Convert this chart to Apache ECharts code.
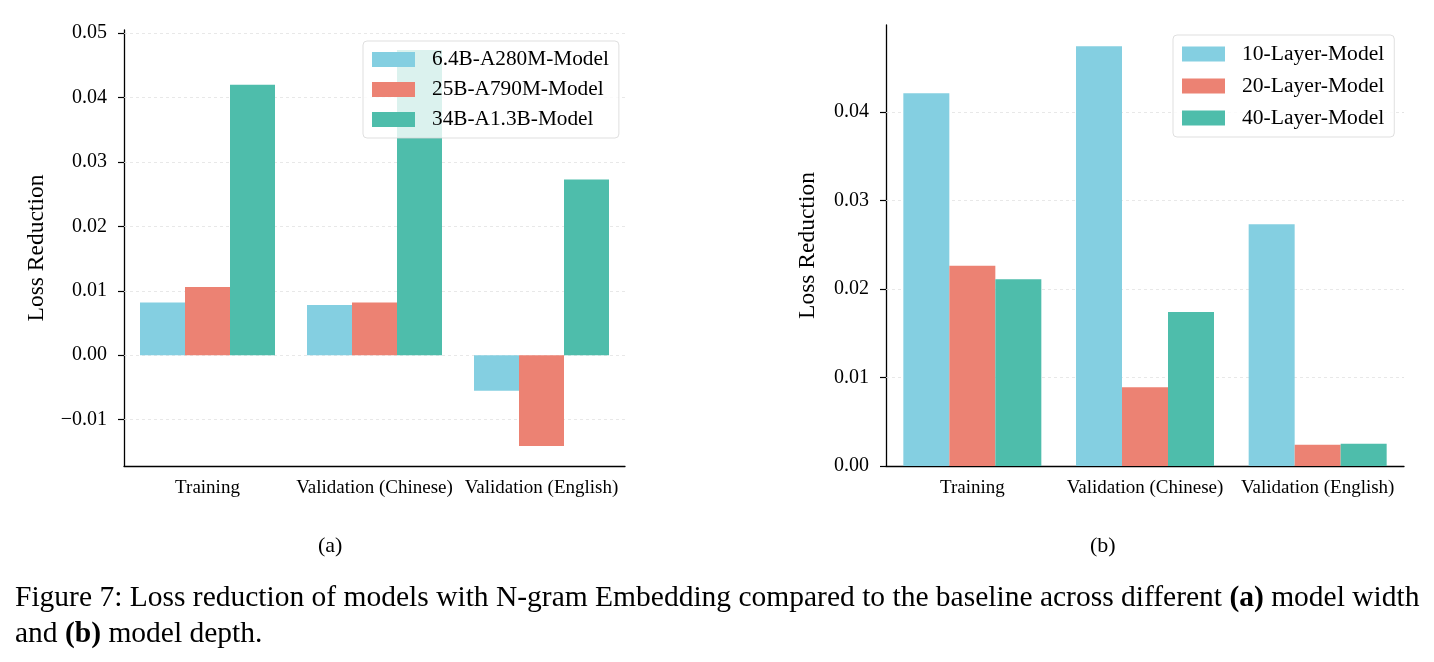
<!DOCTYPE html>
<html>
<head>
<meta charset="utf-8">
<script src="https://cdn.jsdelivr.net/npm/echarts@6/dist/echarts.min.js"></script>
<style>
  html, body { margin: 0; padding: 0; background: #fff; }
  #chart { width: 1434px; height: 662px; }
</style>
</head>
<body>
<div id="chart"></div>
<script>
// categories shared by both panels
const categories = ['Training', 'Validation (Chinese)', 'Validation (English)']

// (a) model width
const widthNames = ['6.4B-A280M-Model', '25B-A790M-Model', '34B-A1.3B-Model']
const width64B = [0.0082, 0.0078, -0.0055]
const width25B = [0.0106, 0.0082, -0.0141]
const width34B = [0.0420, 0.0474, 0.0273]
const ticksA = [-0.01, 0.00, 0.01, 0.02, 0.03, 0.04, 0.05]

// (b) model depth
const depthNames = ['10-Layer-Model', '20-Layer-Model', '40-Layer-Model']
const depth10 = [0.0421, 0.0474, 0.0273]
const depth20 = [0.0226, 0.0089, 0.0024]
const depth40 = [0.0211, 0.0174, 0.0025]
const ticksB = [0.00, 0.01, 0.02, 0.03, 0.04]

const colors = ['#84cfe1', '#ec8273', '#4ebdab']
const serif = "'Liberation Serif', 'Times New Roman', serif"

function fmt(v) {
  return v < 0 ? '\u2212' + (-v).toFixed(2) : v.toFixed(2)
}

function yAxis(grid, min, max, ticks, nameGap) {
  return {
    type: 'value',
    gridIndex: grid,
    min: min,
    max: max,
    name: 'Loss Reduction',
    nameLocation: 'middle',
    nameGap: nameGap,
    nameTextStyle: { fontFamily: serif, fontSize: 23.5, color: '#000' },
    axisLine: { show: true, lineStyle: { color: '#000', width: 1.3 } },
    axisTick: { show: true, length: 6, customValues: ticks, lineStyle: { color: '#000', width: 1.2 } },
    axisLabel: { customValues: ticks, formatter: fmt, fontFamily: serif, fontSize: 20, color: '#000', margin: 17 },
    splitLine: { show: false }
  }
}

function xAxis(grid) {
  return {
    type: 'category',
    gridIndex: grid,
    data: categories,
    axisLine: { onZero: false, lineStyle: { color: '#000', width: 1.3 } },
    axisTick: { alignWithLabel: true, length: 6, lineStyle: { color: '#000', width: 1.2 } },
    axisLabel: { interval: 0, fontFamily: serif, fontSize: 19, color: '#000', margin: 13 }
  }
}

// dotted horizontal grid lines, drawn under the bars
function gridLines(ticks) {
  return {
    silent: true,
    z: 1,
    symbol: ['none', 'none'],
    label: { show: false },
    lineStyle: { type: [3, 3], color: '#e3e3e3', width: 0.8 },
    data: ticks.map(function(t) { return { yAxis: t } })
  }
}

function bar(name, data, idx, color, w, lines) {
  const s = {
    name: name,
    type: 'bar',
    xAxisIndex: idx,
    yAxisIndex: idx,
    data: data,
    barWidth: w,
    barGap: '0%',
    z: 2,
    itemStyle: { color: color },
    emphasis: { disabled: true }
  }
  if (lines) s.markLine = lines
  return s
}

function legend(names, left, top, gap, size) {
  return {
    data: names,
    orient: 'vertical',
    left: left,
    top: top,
    padding: [8, 10, 8, 9],
    itemWidth: 43,
    itemHeight: 15,
    itemGap: gap,
    icon: 'rect',
    selectedMode: false,
    backgroundColor: 'rgba(255,255,255,0.8)',
    borderColor: 'rgba(215,215,215,0.8)',
    borderWidth: 1,
    borderRadius: 4,
    textStyle: { fontFamily: serif, fontSize: size, color: '#000', lineHeight: 21, padding: [0, 0, 0, 12] }
  }
}

const chart = echarts.init(document.getElementById('chart'), null, { renderer: 'canvas' })

const captionRich = { b: { fontWeight: 'bold', fontSize: 29.5, fontFamily: serif } }

chart.setOption({
  animation: false,
  backgroundColor: '#fff',
  grid: [
    { left: 124, top: 30, width: 501, height: 436 },
    { left: 886, top: 25, width: 518, height: 441 }
  ],
  xAxis: [xAxis(0), xAxis(1)],
  yAxis: [
    yAxis(0, -0.0172, 0.0505, ticksA, 75),
    yAxis(1, 0, 0.0498, ticksB, 66)
  ],
  legend: [
    legend(widthNames, 363, 41, 9, 21.3),
    legend(depthNames, 1173, 35, 10, 21.6)
  ],
  series: [
    bar(widthNames[0], width64B, 0, colors[0], 45, gridLines(ticksA)),
    bar(widthNames[1], width25B, 0, colors[1], 45),
    bar(widthNames[2], width34B, 0, colors[2], 45),
    bar(depthNames[0], depth10, 1, colors[0], 46, gridLines(ticksB.filter(function(t) { return t > 0 }))),
    bar(depthNames[1], depth20, 1, colors[1], 46),
    bar(depthNames[2], depth40, 1, colors[2], 46)
  ],
  graphic: [
    { type: 'text', left: 318, top: 535, style: { text: '(a)', font: '22px ' + serif, fill: '#000' } },
    { type: 'text', left: 1090, top: 535, style: { text: '(b)', font: '22px ' + serif, fill: '#000' } },
    {
      type: 'text', left: 15, top: 583,
      style: {
        text: 'Figure 7: Loss reduction of models with N-gram Embedding compared to the baseline across different {b|(a)} model width',
        font: '29.5px ' + serif, fill: '#000',
        rich: captionRich
      }
    },
    {
      type: 'text', left: 15, top: 619,
      style: {
        text: 'and {b|(b)} model depth.',
        font: '29.5px ' + serif, fill: '#000',
        rich: captionRich
      }
    }
  ]
})
</script>
</body>
</html>
